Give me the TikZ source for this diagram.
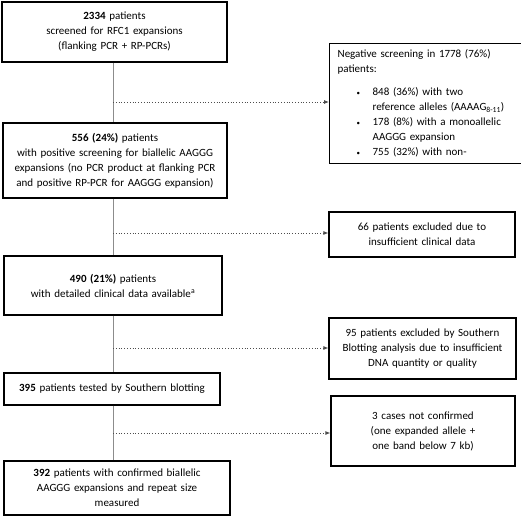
\documentclass[tikz,border=0pt]{standalone}
\usepackage{fontspec}
\setmainfont{Carlito}
\usepackage{xcolor}
\usetikzlibrary{arrows.meta}
\definecolor{TrunkGray}{HTML}{8C8C8C}
\definecolor{DotGray}{HTML}{4D4D4D}
\newcommand{\listdot}{\hspace*{19pt}\makebox[16pt][l]{\raisebox{0.5pt}{\scriptsize\textbullet}}}

\begin{document}
\begin{tikzpicture}[
    x=1pt, y=-1pt,
    font=\fontsize{11}{15}\selectfont,
    box/.style={draw=black, line width=1.3pt, fill=white, align=center,
      inner sep=0pt},
    trunk/.style={draw=TrunkGray, line width=0.8pt},
    side/.style={draw=DotGray, line width=0.8pt, dotted,
      -{Latex[length=5pt,width=4pt]}}
  ]
    \useasboundingbox (0,0) rectangle (520,526);

    % main column
    \node[box, minimum width=225pt, minimum height=60pt, text width=218pt] (screen) at (114.5,32)
      {\textbf{2334} patients\\screened for RFC1 expansions\\(flanking PCR + RP-PCRs)};
    \node[box, minimum width=224pt, minimum height=75pt, text width=220pt] (positive) at (115,160.5)
      {\textbf{556 (24\%)} patients\\with positive screening for biallelic AAGGG\\expansions (no PCR product at flanking PCR\\and positive RP-PCR for AAGGG expansion)};
    \node[box, minimum width=218pt, minimum height=59pt, text width=210pt] (clinical) at (113,285.5)
      {\textbf{490 (21\%)} patients\\with detailed clinical data available\textsuperscript{a}};
    \node[box, minimum width=216pt, minimum height=32pt, text width=210pt] (southern) at (112,389)
      {\textbf{395} patients tested by Southern blotting};
    \node[box, minimum width=226pt, minimum height=54pt, text width=200pt] (confirmed) at (117,488)
      {\textbf{392} patients with confirmed biallelic\\AAGGG expansions and repeat size\\measured};

    % exclusion boxes
    \node[box, minimum width=188pt, minimum height=119pt, text width=176pt, align=left,
      anchor=north west, inner xsep=8pt, inner ysep=6pt] (negative) at (329,43)
      {Negative screening in 1778 (76\%)\\patients:\\[8pt]
       \listdot 848 (36\%) with two\\
       \hspace*{35pt}reference alleles (AAAAG\textsubscript{8-11})\\
       \listdot 178 (8\%) with a monoallelic\\
       \hspace*{35pt}AAGGG expansion\\
       \listdot 755 (32\%) with non-};
    \node[box, minimum width=186pt, minimum height=45pt, text width=180pt] (noclin) at (422,234.5)
      {66 patients excluded due to\\insufficient clinical data};
    \node[box, minimum width=187pt, minimum height=61pt, text width=182pt] (nodna) at (422.5,348.5)
      {95 patients excluded by Southern\\Blotting analysis due to insufficient\\DNA quantity or quality};
    \node[box, minimum width=184pt, minimum height=70pt, text width=176pt] (notconf) at (423,431)
      {3 cases not confirmed\\(one expanded allele +\\one band below 7 kb)};

    % branch points on the trunk
    \coordinate (j1) at (113,102);
    \coordinate (j2) at (113,233);
    \coordinate (j3) at (113,348);
    \coordinate (j4) at (113,433);

    \draw[trunk] (screen.south -| j1) -- (positive.north -| j1);
    \draw[trunk] (positive.south -| j1) -- (clinical.north -| j1);
    \draw[trunk] (clinical.south -| j1) -- (southern.north -| j1);
    \draw[trunk] (southern.south -| j1) -- (confirmed.north -| j1);

    \draw[side] (j1) -- (j1 -| negative.west);
    \draw[side] (j2) -- (j2 -| noclin.west);
    \draw[side] (j3) -- (j3 -| nodna.west);
    \draw[side] (j4) -- (j4 -| notconf.west);
  \end{tikzpicture}
\end{document}
